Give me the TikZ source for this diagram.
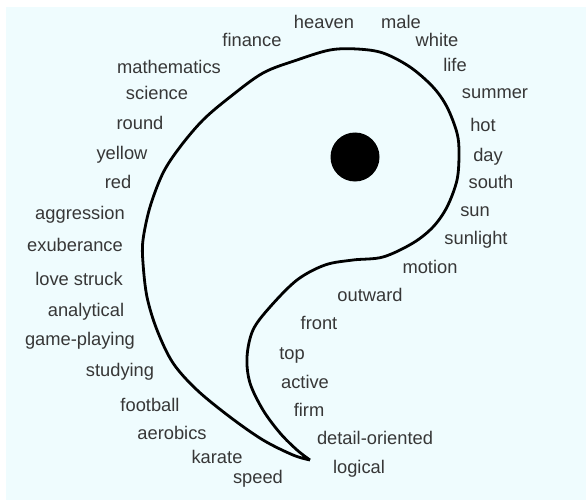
\documentclass[tikz,border=0pt]{standalone}
\usepackage{fontspec}
\setmainfont{Liberation Sans}
\usepackage{tikz}
\usetikzlibrary{positioning}
\definecolor{paleblue}{RGB}{239,252,254}
\definecolor{inkgray}{RGB}{55,55,55}

\begin{document}
\begin{tikzpicture}[
  x=1pt, y=-1pt,
  font=\fontsize{18.3}{20}\selectfont,
  word/.style={text=inkgray, inner sep=0pt, text height=13pt, text depth=0pt, anchor=center},
  yang/.style={line width=2.8pt, draw=black, line join=round}
]
\useasboundingbox (0,0) rectangle (586,500);
\fill[paleblue] (6,7) rectangle (586,500);

% the yang half
\draw[yang] plot[smooth, tension=0.55] coordinates {
  (310,460) (293,455) (263,440) (230,417) (197,390) (173,363) (157,330)
  (147,297) (143,263) (143,240) (150,207) (163,173) (180,147) (203,120)
  (230,97) (263,73) (297,60) (330,50) (357,49) (383,53) (410,67) (433,87)
  (447,107) (457,133) (459,153) (457,180) (447,207) (433,227) (413,243)
  (383,257) (353,260) (325,265) (297,280) (270,307) (253,330) (247,357)
  (250,383) (263,410) (280,433) (297,450) (310,460)};
\fill[black] (355,157) circle (24.5);

% top and right side
\node[word] (heaven) at (324,22) {heaven};
\node[word] (male) at (401,22) {male};
\node[word] (white) at (437,40) {white};
\node[word] (life) at (455,65) {life};
\node[word] (summer) at (495,92) {summer};
\node[word] (hot) at (483,125) {hot};
\node[word] (day) at (488,155) {day};
\node[word] (south) at (491,182) {south};
\node[word] (sun) at (475,210) {sun};
\node[word] (sunlight) at (476,238) {sunlight};
\node[word] (motion) at (430,267) {motion};
\node[word] (outward) at (370,295) {outward};
\node[word] (front) at (319,323) {front};
\node[word] (top) at (292,353) {top};
\node[word] (active) at (305,382) {active};
\node[word] (firm) at (309,410) {firm};
\node[word] (detail) at (375,438) {detail-oriented};
\node[word] (logical) at (359,467) {logical};

% left side
\node[word] (finance) at (252,40) {finance};
\node[word] (mathematics) at (169,67) {mathematics};
\node[word] (science) at (157,93) {science};
\node[word] (round) at (140,123) {round};
\node[word] (yellow) at (122,153) {yellow};
\node[word] (red) at (118,182) {red};
\node[word] (aggression) at (80,213) {aggression};
\node[word] (exuberance) at (75,245) {exuberance};
\node[word] (lovestruck) at (79,279) {love struck};
\node[word] (analytical) at (86,310) {analytical};
\node[word] (gameplaying) at (80,339) {game-playing};
\node[word] (studying) at (120,370) {studying};
\node[word] (football) at (150,405) {football};
\node[word] (aerobics) at (172,433) {aerobics};
\node[word] (karate) at (217,457) {karate};
\node[word] (speed) at (258,477) {speed};
\end{tikzpicture}
\end{document}
